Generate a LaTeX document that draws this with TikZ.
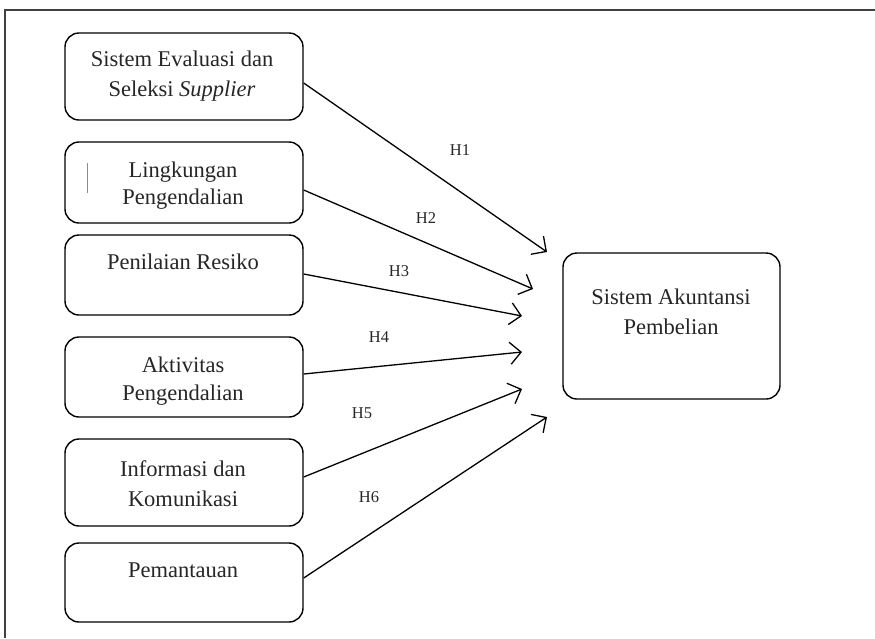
\documentclass[tikz,border=0pt]{standalone}
\usepackage{fontspec}
\setmainfont{Liberation Serif}
\usetikzlibrary{arrows.meta}
\begin{document}
\begin{tikzpicture}[x=1pt,y=-1pt,
  varbox/.style={draw, line width=1.4pt, rounded corners=14pt, inner sep=0pt},
  boxtext/.style={font=\fontsize{22.5}{30}\selectfont, align=center, inner sep=0pt, text=black!85},
  hlabel/.style={font=\fontsize{16.5}{19}\selectfont, inner sep=0pt, text=black!85},
  hyp/.style={line width=1.3pt, -{Straight Barb[length=11pt,width=22pt,line width=1.3pt]}}
]
\useasboundingbox (0,0) rectangle (875,638);
% outer frame (top and left edges visible)
\draw[line width=1.6pt, black!75] (4,10) -- (875,10);
\draw[line width=1.6pt, black!75] (5,10) -- (5,638);

% left boxes
\node[varbox, minimum width=238pt, minimum height=87pt] (b1) at (184,76.5) {};
\node[varbox, minimum width=238pt, minimum height=81pt] (b2) at (184,182.5) {};
\node[varbox, minimum width=238pt, minimum height=80pt] (b3) at (184,275) {};
\node[varbox, minimum width=238pt, minimum height=80pt] (b4) at (184,377) {};
\node[varbox, minimum width=238pt, minimum height=87pt] (b5) at (184,482.5) {};
\node[varbox, minimum width=238pt, minimum height=79pt] (b6) at (184,582.5) {};
% right box
\node[varbox, minimum width=217pt, minimum height=146pt] (y) at (671.5,326) {};

% texts
\node[boxtext] (t1) at (182,76) {Sistem Evaluasi dan\\Seleksi \textit{Supplier}};
\node[boxtext, font=\fontsize{22.5}{27}\selectfont] (t2) at (183,186) {Lingkungan\\Pengendalian};
\node[boxtext] (t3) at (183,262) {Penilaian Resiko};
\node[boxtext, font=\fontsize{22.5}{28}\selectfont] (t4) at (183,381) {Aktivitas\\Pengendalian};
\node[boxtext] (t5) at (183,484) {Informasi dan\\Komunikasi};
\node[boxtext] (t6) at (183,570) {Pemantauan};
\node[boxtext] (ty) at (671,312) {Sistem Akuntansi\\Pembelian};

% stray cursor mark in box 2
\draw[black!45, line width=1pt] (87,163) -- (87,193);

% arrow end points
\coordinate (e1) at (547,252);
\coordinate (e2) at (533,289);
\coordinate (e3) at (522,316);
\coordinate (e4) at (522,352);
\coordinate (e5) at (522,389);
\coordinate (e6) at (547,417);

\draw[hyp] ([yshift=-6.5pt]b1.east) -- (e1);
\draw[hyp] ([yshift=-7.5pt]b2.east) -- (e2);
\draw[hyp] ([yshift=1pt]b3.east) -- (e3);
\draw[hyp] ([yshift=3pt]b4.east) -- (e4);
\draw[hyp] ([yshift=5.5pt]b5.east) -- (e5);
\draw[hyp] ([yshift=4.5pt]b6.east) -- (e6);

% labels
\node[hlabel] (h1) at (460,150) {H1};
\node[hlabel] (h2) at (426,218) {H2};
\node[hlabel] (h3) at (399,271) {H3};
\node[hlabel] (h4) at (379,337) {H4};
\node[hlabel] (h5) at (362,413) {H5};
\node[hlabel] (h6) at (369,497) {H6};
\end{tikzpicture}
\end{document}
